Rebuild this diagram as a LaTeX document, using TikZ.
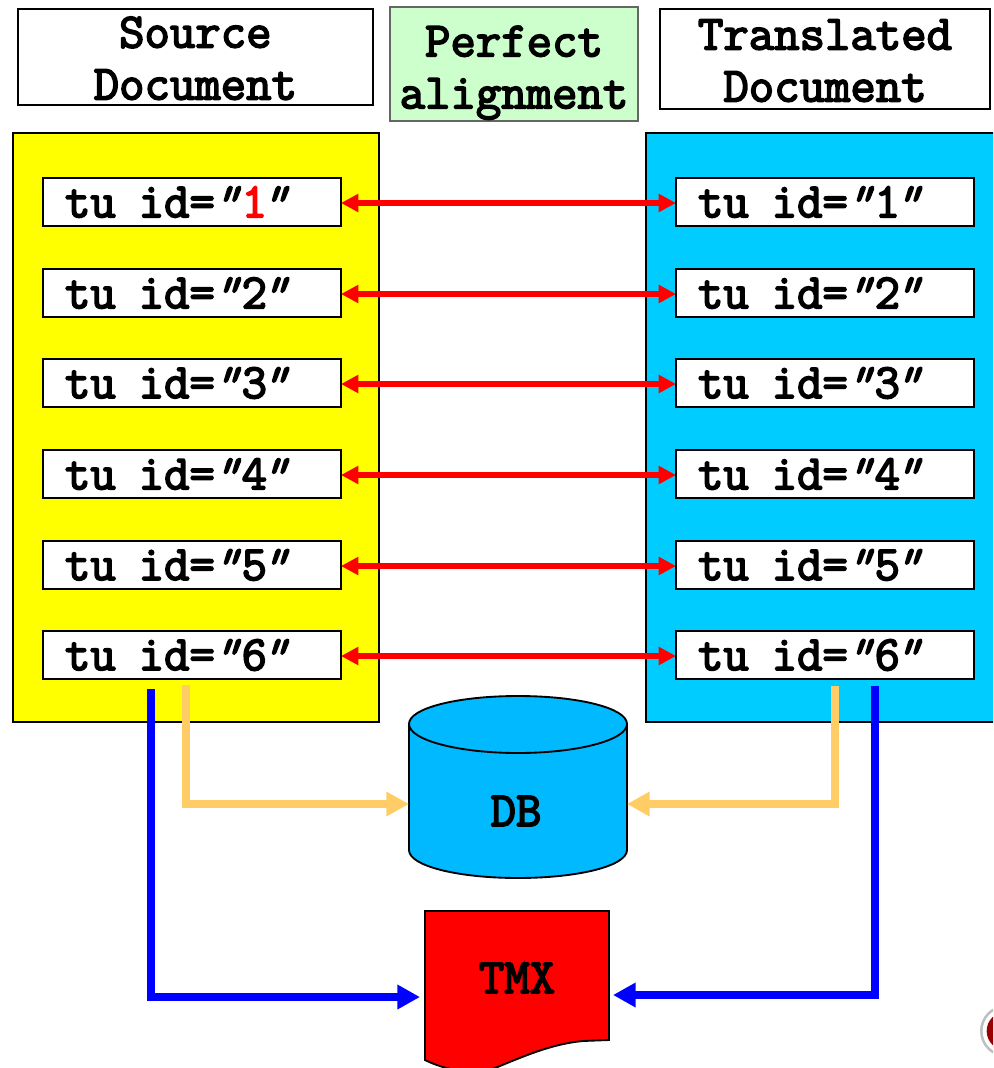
\documentclass[tikz,border=0pt]{standalone}
\usepackage{fontspec}
\usetikzlibrary{arrows.meta,positioning}
\newfontfamily\boldmono{Latin Modern Mono}[FakeBold=3.4]
\newcommand{\slq}{\kern-2.5pt{\addfontfeature{FakeSlant=0.35}"}\kern2.5pt}
\newcommand{\tuid}[1]{tu \kern4.8pt id=\slq\kern1pt#1\kern-3pt\slq}
\definecolor{docyellow}{HTML}{FFFF00}
\definecolor{docblue}{HTML}{00CCFF}
\definecolor{dbblue}{HTML}{00B9FF}
\definecolor{palegreen}{HTML}{CCFFCC}
\definecolor{linkorange}{HTML}{FFCC66}
\tikzset{
  x=0.75pt,y=-0.75pt,outer sep=0pt,
  bigtext/.style={font=\fontsize{37}{39}\selectfont\boldmono},
  headbox/.style={draw=black,line width=1.4pt,fill=white,inner sep=0pt,anchor=north west,align=center,bigtext},
  panel/.style={draw=black,line width=1.4pt,anchor=north west,inner sep=0pt},
  tubox/.style={draw=black,line width=1.4pt,fill=white,anchor=north west,inner xsep=16.5pt,inner ysep=0pt,minimum height=36pt,text width=190.5pt,align=left,bigtext},
  redlink/.style={draw=red,line width=4.2pt,{Triangle[length=13pt,width=13pt]}-{Triangle[length=13pt,width=13pt]}},
  orangelink/.style={draw=linkorange,line width=5.6pt,-{Triangle[length=17pt,width=17.5pt]},line join=miter},
  bluelink/.style={draw=blue,line width=6pt,-{Triangle[length=17pt,width=17.5pt]},line join=miter},
  shapeline/.style={draw=black,line width=1.4pt},
  caption/.style={bigtext,inner sep=0pt}
}
\begin{document}
\begin{tikzpicture}
\useasboundingbox (0,0) rectangle (993,1068);
\clip (0,0) rectangle (993,1068);
% headers
\node[headbox,minimum width=266pt,minimum height=72pt] (src) at (18,9) {\rule{0pt}{25pt}Source\\Document};
\node[headbox,fill=palegreen,draw=black!60,minimum width=186pt,minimum height=85.5pt] (perf) at (390,7) {\rule{0pt}{36pt}Perfect\\alignment};
\node[headbox,minimum width=247.5pt,minimum height=75pt] (trans) at (660,9) {\rule{0pt}{25pt}Translated\\Document};
% panels
\node[panel,fill=docyellow,minimum width=274.5pt,minimum height=441.75pt] (srcpanel) at (13,133) {};
\node[panel,fill=docblue,minimum width=300pt,minimum height=441.75pt] (trpanel) at (646,133) {};
% tu boxes
\node[tubox] (s1) at (43,178) {\tuid{\textcolor{red}{1}}};
\node[tubox] (s2) at (43,269) {\tuid{2}};
\node[tubox] (s3) at (43,359) {\tuid{3}};
\node[tubox] (s4) at (43,450) {\tuid{4}};
\node[tubox] (s5) at (43,541) {\tuid{5}};
\node[tubox] (s6) at (43,631) {\tuid{6}};
\node[tubox] (t1) at (676,178) {\tuid{1}};
\node[tubox] (t2) at (676,269) {\tuid{2}};
\node[tubox] (t3) at (676,359) {\tuid{3}};
\node[tubox] (t4) at (676,450) {\tuid{4}};
\node[tubox] (t5) at (676,541) {\tuid{5}};
\node[tubox] (t6) at (676,631) {\tuid{6}};
\foreach \i in {1,...,6} \draw[redlink] ([yshift=-0.75pt]s\i.east) -- ([yshift=-0.75pt]t\i.west);
% database
\path[shapeline,fill=dbblue] (409,724) -- (409,850) .. controls (409,866) and (458,878) .. (518,878) .. controls (578,878) and (627,866) .. (627,850) -- (627,724) .. controls (627,708) and (578,696) .. (518,696) .. controls (458,696) and (409,708) .. (409,724) -- cycle;
\path[shapeline] (409,724) .. controls (409,740) and (458,753) .. (518,753) .. controls (578,753) and (627,740) .. (627,724);
\node[caption] (db) at (516,811) {DB};
\coordinate (dbw) at (409,804);
\coordinate (dbe) at (627,804);
% TMX document
\path[shapeline,fill=red] (425,911) -- (609,911) -- (609,1040) -- (583,1041) .. controls (550,1044) and (520,1058) .. (495,1068) .. controls (475,1076) and (445,1070) .. (425,1060) -- cycle;
\node[caption] (tmx) at (517,978) {TMX};
\coordinate (tmxw) at (420,997);
\coordinate (tmxe) at (613,995);
% connectors
\coordinate (so) at (186,685);
\coordinate (sb) at (151,689);
\coordinate (to) at (835,686);
\coordinate (tb) at (875,686);
\draw[orangelink] (so) |- (dbw);
\draw[orangelink] (to) |- (dbe);
\draw[bluelink] (sb) |- (tmxw);
\draw[bluelink] (tb) |- (tmxe);
% logo fragment
\fill[black!25] (1006,1031) circle (19.5pt);
\fill[white] (1006,1031) circle (17.5pt);
\fill[red!60!black] (1006,1031) circle (14.5pt);
\end{tikzpicture}
\end{document}
